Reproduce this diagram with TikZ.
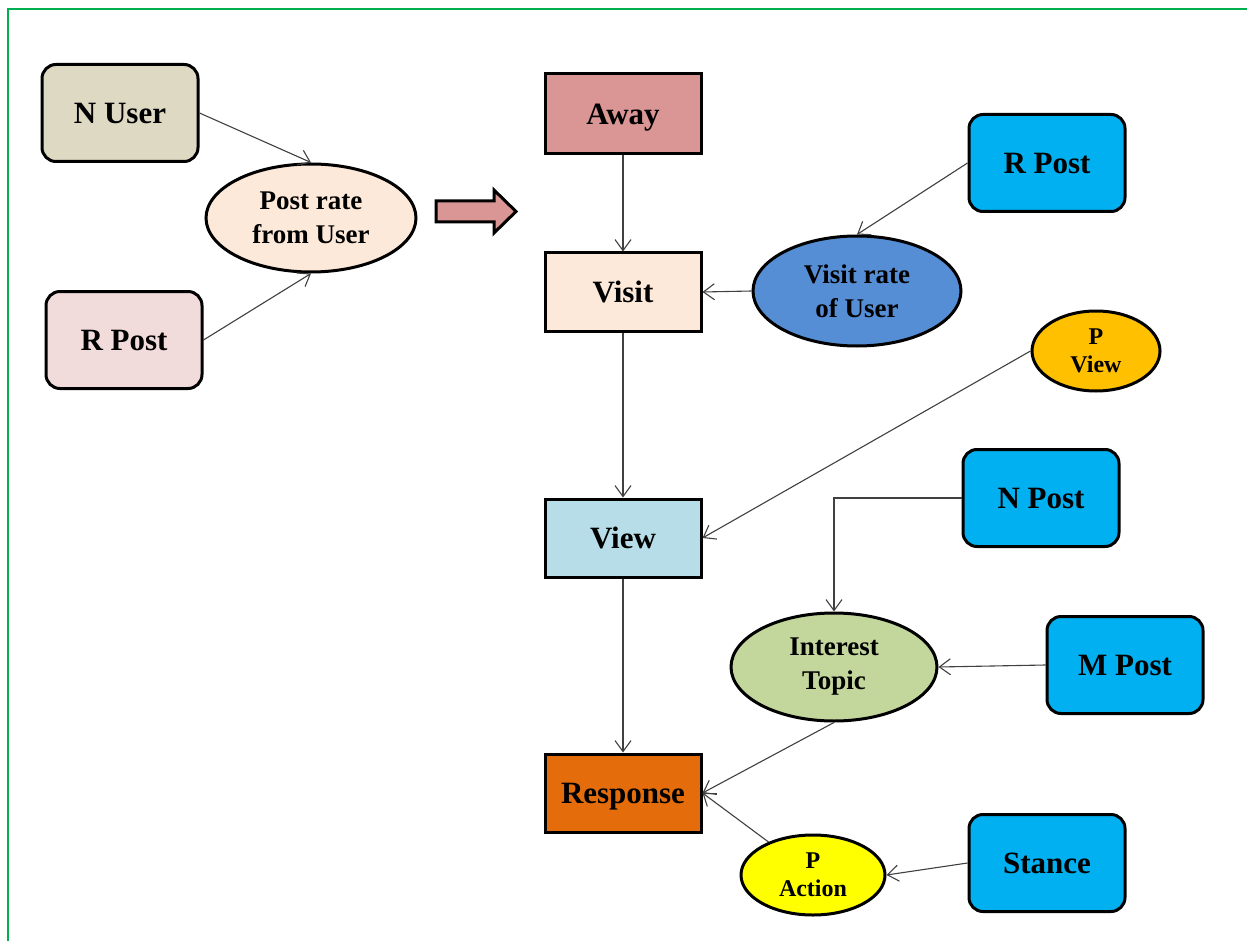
\documentclass[tikz,border=0pt]{standalone}
\usepackage{fontspec}
\setmainfont{Liberation Serif}
\usetikzlibrary{shapes.geometric,arrows.meta}
\definecolor{frameGreen}{HTML}{00B050}
\definecolor{cTan}{HTML}{DDD9C3}
\definecolor{cPink}{HTML}{F2DCDB}
\definecolor{cPeach}{HTML}{FDE9D9}
\definecolor{cRose}{HTML}{D99694}
\definecolor{cLightBlue}{HTML}{B7DEE8}
\definecolor{cOrange}{HTML}{E46C0A}
\definecolor{cCyan}{HTML}{00B0F0}
\definecolor{cMidBlue}{HTML}{558ED5}
\definecolor{cGold}{HTML}{FFC000}
\definecolor{cOlive}{HTML}{C3D69B}
\definecolor{cYellow}{HTML}{FFFF00}
\definecolor{lineGray}{HTML}{404040}
\tikzset{
  rbox/.style={draw=black, line width=3pt, rounded corners=14pt, minimum width=156pt, minimum height=97pt, inner sep=0pt, text height=24pt, text depth=3.5pt, font=\bfseries\fontsize{31}{35}\selectfont},
  sbox/.style={draw=black, line width=3pt, minimum width=156pt, minimum height=78pt, inner sep=0pt, text height=24pt, text depth=3.5pt, font=\bfseries\fontsize{31}{35}\selectfont},
  oval/.style={draw=black, line width=3pt, ellipse, inner sep=0pt, align=center, font=\bfseries\fontsize{27}{34}\selectfont},
  smalloval/.style={draw=black, line width=3pt, ellipse, inner sep=0pt, align=center, font=\bfseries\fontsize{24}{28}\selectfont},
  conn/.style={draw=lineGray, line width=1.1pt, -{Straight Barb[length=11pt,width=16pt,line width=1.1pt]}},
}
\begin{document}
\begin{tikzpicture}[x=1pt,y=-1pt]
\useasboundingbox (0,0) rectangle (1247,941);
\draw[frameGreen, line width=2pt] (1247,9) -- (8,9) -- (8,941);

% left part
\node[rbox, fill=cTan] (nuser) at (120,113) {N User};
\node[rbox, fill=cPink] (rpostL) at (124,340) {R Post};
\node[oval, fill=cPeach, minimum width=210pt, minimum height=108pt] (postrate) at (311,218) {Post rate\\from User};
\draw[black, line width=3pt, fill=cRose, line join=miter] (436,201) -- (494,201) -- (494,190) -- (516,211.5) -- (494,233) -- (494,222) -- (436,222) -- cycle;

% main column
\node[sbox, fill=cRose, minimum height=80pt] (away) at (623,114) {Away};
\node[sbox, fill=cPeach] (visit) at (623,292) {Visit};
\node[sbox, fill=cLightBlue] (view) at (623,538) {View};
\node[sbox, fill=cOrange] (response) at (623,793) {Response};

% right part
\node[rbox, fill=cCyan] (rpostR) at (1047,163) {R Post};
\node[oval, fill=cMidBlue, minimum width=208pt, minimum height=110pt] (visitrate) at (857,291) {Visit rate\\of User};
\node[smalloval, fill=cGold, minimum width=128pt, minimum height=80pt] (pview) at (1096,351) {P\\View};
\node[rbox, fill=cCyan] (npost) at (1041,498) {N Post};
\node[oval, fill=cOlive, minimum width=206pt, minimum height=108pt] (interest) at (834,667) {Interest\\Topic};
\node[rbox, fill=cCyan] (mpost) at (1125,665) {M Post};
\node[smalloval, fill=cYellow, minimum width=144pt, minimum height=80pt] (paction) at (813,875) {P\\Action};
\node[rbox, fill=cCyan] (stance) at (1047,863) {Stance};

% connectors
\draw[conn] (nuser.east) -- (postrate.north);
\draw[conn] (rpostL.east) -- (postrate.south);
\draw[conn] (away.south) -- (visit.north);
\draw[conn] (visitrate.west) -- (visit.east);
\draw[conn] (rpostR.west) -- (visitrate.north);
\draw[conn] (visit.south) -- (view.north);
\draw[conn] (pview.west) -- (view.east);
\draw[conn] (npost.west) -| (interest.north);
\draw[conn] (mpost.west) -- (interest.east);
\draw[conn] (view.south) -- (response.north);
\draw[conn] (interest.south) -- (response.east);
\draw[conn] (paction) -- (response.east);
\draw[conn] (stance.west) -- (paction.east);
\end{tikzpicture}
\end{document}
